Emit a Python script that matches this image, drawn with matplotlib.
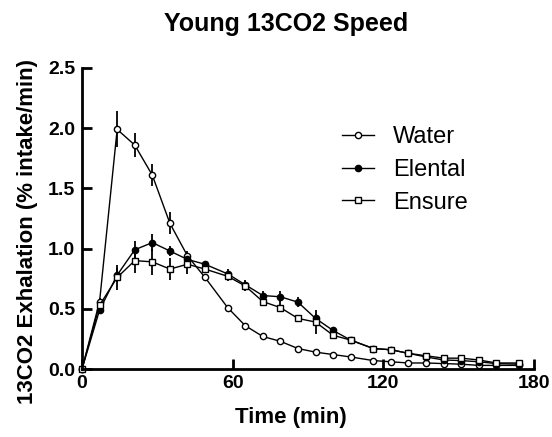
import numpy as np
import matplotlib
matplotlib.use('Agg')
import matplotlib.pyplot as plt

plt.rcParams['font.family'] = ['Liberation Sans', 'DejaVu Sans']

# sampling times (min)
time = [0, 7, 14, 21, 28, 35, 42, 49, 58, 65, 72, 79, 86, 93, 100, 107,
        116, 123, 130, 137, 144, 151, 158, 165, 174]

water = [0.0, 0.56, 1.99, 1.86, 1.61, 1.21, 0.94, 0.76, 0.51, 0.36, 0.27, 0.23,
         0.17, 0.14, 0.12, 0.10, 0.07, 0.06, 0.05, 0.05, 0.045, 0.04, 0.03, 0.03, 0.03]
water_err = [0.0, 0.03, 0.15, 0.10, 0.09, 0.09, 0.04, 0.02, 0.02, 0.02, 0.01, 0.01,
             0.01, 0.01, 0.01, 0.01, 0.01, 0.01, 0.01, 0.01, 0.01, 0.01, 0.01, 0.01, 0.01]

elental = [0.0, 0.49, 0.78, 0.99, 1.05, 0.98, 0.91, 0.87, 0.79, 0.70, 0.61, 0.60,
           0.555, 0.42, 0.32, 0.24, 0.17, 0.16, 0.13, 0.10, 0.075, 0.07, 0.06, 0.045, 0.04]
elental_err = [0.0, 0.03, 0.06, 0.07, 0.07, 0.04, 0.04, 0.03, 0.04, 0.04, 0.04, 0.05,
               0.04, 0.04, 0.03, 0.02, 0.01, 0.01, 0.01, 0.01, 0.01, 0.01, 0.01, 0.01, 0.01]

ensure = [0.0, 0.53, 0.76, 0.90, 0.89, 0.83, 0.87, 0.83, 0.77, 0.69, 0.56, 0.51,
          0.42, 0.39, 0.28, 0.24, 0.17, 0.16, 0.13, 0.11, 0.09, 0.09, 0.075, 0.05, 0.05]
ensure_err = [0.0, 0.03, 0.10, 0.10, 0.11, 0.09, 0.08, 0.03, 0.04, 0.04, 0.03, 0.04,
              0.03, 0.10, 0.03, 0.02, 0.01, 0.01, 0.01, 0.01, 0.01, 0.01, 0.01, 0.01, 0.01]

W, H = 552, 437
fig = plt.figure(figsize=(W / 100, H / 100), dpi=100)
ax = fig.add_axes([82 / W, 1 - 369 / H, 452 / W, 301 / H])

common = dict(color='black', lw=1.0, ms=4.5, mew=1.0, elinewidth=1.3, capsize=0,
              clip_on=False)
ax.errorbar(time, water, yerr=water_err, fmt='-o', mfc='white', label='Water',
            **common)
ax.errorbar(time, elental, yerr=elental_err, fmt='-o', mfc='black', label='Elental',
            **common)
ax.errorbar(time, ensure, yerr=ensure_err, fmt='-s', mfc='white', label='Ensure',
            **common)

ax.set_xlim(0, 180)
ax.set_ylim(0, 2.5)
ax.set_xticks([0, 60, 120, 180])
ax.set_yticks([0.0, 0.5, 1.0, 1.5, 2.0, 2.5])
ax.set_yticklabels(['0.0', '0.5', '1.0', '1.5', '2.0', '2.5'])

for s in ['top', 'right']:
    ax.spines[s].set_visible(False)
for s in ['left', 'bottom']:
    ax.spines[s].set_linewidth(2)
ax.tick_params(width=2, length=7, labelsize=14, direction='in')
ax.tick_params(axis='y', pad=5)
ax.tick_params(axis='x', pad=4)
for lbl in ax.get_xticklabels() + ax.get_yticklabels():
    lbl.set_fontweight('bold')

ax.set_xlabel('Time (min)', fontsize=16, fontweight='bold')
ax.xaxis.set_label_coords(0.462, -0.125)
ax.set_ylabel('13CO2 Exhalation (% intake/min)', fontsize=16, fontweight='bold')
ax.yaxis.set_label_coords(-0.097, 0.458)
fig.text(286 / W, 1 - 24 / H, 'Young 13CO2 Speed', fontsize=18, fontweight='bold',
         ha='center', va='center')

handles, labels = ax.get_legend_handles_labels()
handles = [h[0] for h in handles]
fig.legend(handles, labels, loc='center left', bbox_to_anchor=(342 / W, 1 - 170 / H),
           frameon=False, fontsize=17, handlelength=1.36, handletextpad=0.8,
           labelspacing=0.45, borderpad=0, borderaxespad=0)

fig.savefig('out.png', dpi=100)
